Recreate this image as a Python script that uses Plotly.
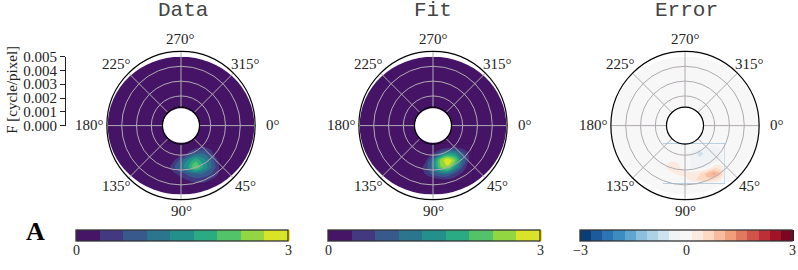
import math
import plotly.graph_objects as go
import plotly.express as px
from plotly.colors import sample_colorscale

freq_x = [-0.0015, -0.001, -0.0005, 0, 0.0005, 0.001, 0.0015, 0.002, 0.0024, 0.0027]
freq_y = [0.0013, 0.0016, 0.002, 0.0025, 0.003, 0.0035, 0.0039, 0.0042]

data_z = [
    [0.01, 0.01, 0.01, 0.01, 0.01, 0.01, 0.01, 0.01, 0.01, 0.01],
    [0.01, 0.01, 0.01, 0.01, 0.05, 0.25, 0.42, 0.25, 0.01, 0.01],
    [0.01, 0.01, 0.01, 0.1, 0.4, 0.85, 0.95, 0.55, 0.1, 0.01],
    [0.01, 0.01, 0.25, 0.8, 1.4, 1.9, 1.5, 1.0, 0.45, 0.1],
    [0.01, 0.05, 0.6, 1.1, 1.7, 2.4, 1.7, 1.1, 0.6, 0.2],
    [0.01, 0.01, 0.25, 0.5, 0.8, 1.0, 0.95, 0.7, 0.5, 0.15],
    [0.01, 0.01, 0.01, 0.2, 0.4, 0.55, 0.5, 0.36, 0.15, 0.01],
    [0.01, 0.01, 0.01, 0.01, 0.1, 0.3, 0.3, 0.1, 0.01, 0.01],
]
fit_z = [
    [0.01, 0.01, 0.01, 0.01, 0.01, 0.01, 0.01, 0.01, 0.01, 0.01],
    [0.01, 0.01, 0.01, 0.01, 0.05, 0.28, 0.4, 0.22, 0.01, 0.01],
    [0.01, 0.01, 0.01, 0.3, 0.9, 1.5, 1.4, 0.8, 0.35, 0.01],
    [0.01, 0.01, 0.25, 1.1, 2.4, 3.0, 2.4, 1.1, 0.38, 0.01],
    [0.01, 0.05, 0.5, 1.2, 2.3, 2.6, 1.6, 0.7, 0.15, 0.01],
    [0.01, 0.01, 0.38, 0.8, 1.0, 1.0, 0.6, 0.25, 0.01, 0.01],
    [0.01, 0.01, 0.01, 0.15, 0.3, 0.3, 0.15, 0.01, 0.01, 0.01],
    [0.01, 0.01, 0.01, 0.01, 0.01, 0.01, 0.01, 0.01, 0.01, 0.01],
]
error_z = [
    [0, 0, 0, 0, 0, 0, 0, 0, 0, 0],
    [0, 0, 0, 0, 0, -0.15, -0.25, -0.25, -0.15, 0],
    [0, 0, 0, 0, -0.3, -0.55, -0.4, -0.4, -0.25, 0],
    [0, 0.1, 0.1, 0, -0.2, -0.4, -0.4, -0.35, -0.2, 0],
    [0, 0.4, 0.25, 0, -0.2, -0.3, -0.2, 0.3, 0.3, 0],
    [0, 0, 0.2, 0.25, 0.3, 0.45, 0.9, 1.2, 0.8, 0.1],
    [0, 0, 0, 0.05, 0.3, 0.6, 0.7, 0.5, 0.2, 0],
    [0, 0, 0, 0, 0, 0, 0, 0, 0, 0],
]

titles = ["Data", "Fit", "Error"]
title_px = [183, 433, 686]
centers_px = [181, 433, 685]
bar_left_px = [76, 328, 580]
angle_vals = [0, 45, 90, 135, 180, 225, 270, 315]
angle_text = ["0°", "45°", "90°", "135°", "180°", "225°", "270°", "315°"]
radial_grid = [0.002, 0.003, 0.004]
f_ticks = [0, 0.001, 0.002, 0.003, 0.004, 0.005]
f_text = ["0.000", "0.001", "0.002", "0.003", "0.004", "0.005"]

W, H = 798, 270
RPX, CY = 73.3, 125
POLAR_PAD = 5.5
LABEL_R = 91.5
BAR_W = 212
RMAX, RHOLE = 0.005, 0.00125
SERIF = "Liberation Serif"
TXT = "#222"
GRID = "#b0aab0"
viridis = px.colors.sequential.Viridis
rdbu = px.colors.diverging.RdBu_r
vir_bg = sample_colorscale(viridis, [1 / 18])[0]
err_bg = sample_colorscale(rdbu, [0.5])[0]


def plateau_scale(colors, neutral, low, high):
    # keep the band around zero on one neutral colour, the same as the disc behind it
    m = len(colors) - 1
    under = [[j / m, c] for j, c in enumerate(colors) if j / m < low]
    over = [[j / m, c] for j, c in enumerate(colors) if j / m > high]
    return under + [[low, neutral], [high, neutral]] + over


def px_x(v):
    return v / W


def px_y(v):
    return (H - v) / H


fig = go.Figure()
layout = dict(width=W, height=H, margin=dict(l=0, r=0, t=0, b=0), autosize=False,
              paper_bgcolor="white", plot_bgcolor="rgba(0,0,0,0)",
              font=dict(family=SERIF, size=14, color=TXT), showlegend=False)
shapes, annots = [], []


def note(text, x, y, size, family=SERIF, color=TXT, angle=0, yshift=0):
    annots.append(dict(text=text, x=px_x(x), y=px_y(y), xref="paper", yref="paper",
                       xanchor="center", yanchor="middle", showarrow=False, textangle=angle,
                       yshift=yshift, font=dict(family=family, size=size, color=color)))


ydom = [px_y(CY + RPX), px_y(CY - RPX)]
polar_ydom = [px_y(CY + RPX + POLAR_PAD), px_y(CY - RPX - POLAR_PAD)]
specs = [
    (data_z, viridis, 0, 3, 1 / 3, ["0", "3"], [0, 1], vir_bg),
    (fit_z, viridis, 0, 3, 1 / 3, ["0", "3"], [0, 1], vir_bg),
    (error_z, plateau_scale(rdbu, err_bg, 0.46, 0.51), -3, 3, 6 / 19, ["−3", "0", "3"], [0, 0.5, 1], err_bg),
]
for i, (z, cs, lo, hi, step, tt, tfrac, bg) in enumerate(specs):
    sfx = "" if i == 0 else str(i + 1)
    xdom = [px_x(centers_px[i] - RPX), px_x(centers_px[i] + RPX)]
    polar_xdom = [px_x(centers_px[i] - RPX - POLAR_PAD), px_x(centers_px[i] + RPX + POLAR_PAD)]
    layout["xaxis" + sfx] = dict(domain=xdom, range=[-RMAX, RMAX], visible=False, anchor="y" + sfx)
    layout["yaxis" + sfx] = dict(domain=ydom, range=[RMAX, -RMAX], visible=False, anchor="x" + sfx)
    fig.add_trace(go.Contour(
        x=freq_x, y=freq_y, z=z, xaxis="x" + sfx, yaxis="y" + sfx,
        colorscale=cs, zmin=lo, zmax=hi, autocontour=False,
        contours=dict(start=lo, end=hi + 0.001, size=step, coloring="fill", showlines=False),
        line=dict(width=0, smoothing=1.0), hoverinfo="skip",
        colorbar=dict(orientation="h", x=px_x(bar_left_px[i]), xanchor="left", xref="paper",
                      y=px_y(236), yanchor="top", yref="paper", len=BAR_W / W, lenmode="fraction",
                      thickness=11, thicknessmode="pixels", outlinecolor="#333", outlinewidth=1.3,
                      xpad=0, ypad=0, ticks="", showticklabels=False),
    ))
    for t, f in zip(tt, tfrac):
        note(t, bar_left_px[i] + f * BAR_W, 250, 14, yshift=-7)
    for rad, col in ((RMAX, bg), (RHOLE, "white")):
        shapes.append(dict(type="circle", xref="x" + sfx, yref="y" + sfx, layer="below",
                           x0=-rad, x1=rad, y0=-rad, y1=rad, fillcolor=col, line=dict(width=0)))
    layout["polar" + sfx] = dict(
        domain=dict(x=polar_xdom, y=polar_ydom), hole=RHOLE / RMAX, bgcolor="rgba(0,0,0,0)",
        radialaxis=dict(range=[RHOLE, RMAX], tickvals=radial_grid, showticklabels=False, ticks="",
                        showline=False, gridcolor=GRID, gridwidth=1.4),
        angularaxis=dict(direction="clockwise", rotation=0, tickvals=angle_vals, showticklabels=False,
                         ticks="", showline=True, linecolor="black", linewidth=1.2,
                         gridcolor=GRID, gridwidth=1.4),
    )
    fig.add_trace(go.Scatterpolar(r=[RMAX], theta=[0], mode="markers", marker=dict(opacity=0),
                                  subplot="polar" + sfx, hoverinfo="skip"))
    note(titles[i], title_px[i], 8, 21, family="Liberation Mono", color="#444", yshift=5)
    for a, t in zip(angle_vals, angle_text):
        note(t, centers_px[i] + LABEL_R * math.cos(math.radians(a)),
             CY - 1 + LABEL_R * math.sin(math.radians(a)), 15)

# frequency scale on the left of the first panel
layout["xaxis4"] = dict(domain=[px_x(66), px_x(70)], visible=False, anchor="y4")
layout["yaxis4"] = dict(domain=[px_y(CY), px_y(CY - RPX)], range=[0, RMAX], anchor="x4",
                        tickvals=f_ticks, ticktext=f_text, ticks="outside", ticklen=5, tickcolor=TXT,
                        showline=True, linecolor=TXT, linewidth=1.2, showgrid=False, zeroline=False,
                        tickfont=dict(family=SERIF, size=15, color=TXT))
fig.add_trace(go.Scatter(x=[0], y=[0], xaxis="x4", yaxis="y4", mode="markers",
                         marker=dict(opacity=0), hoverinfo="skip"))

note("F [cycle/pixel]", 12, 87, 15, angle=-90)
note("<b>A</b>", 35, 232, 26, color="black", yshift=-5)
layout["shapes"] = shapes
layout["annotations"] = annots
fig.update_layout(**layout)
fig.write_html("out.html", config={"displayModeBar": False},
               post_script="document.body.style.margin='0';document.body.style.overflow='hidden';")
